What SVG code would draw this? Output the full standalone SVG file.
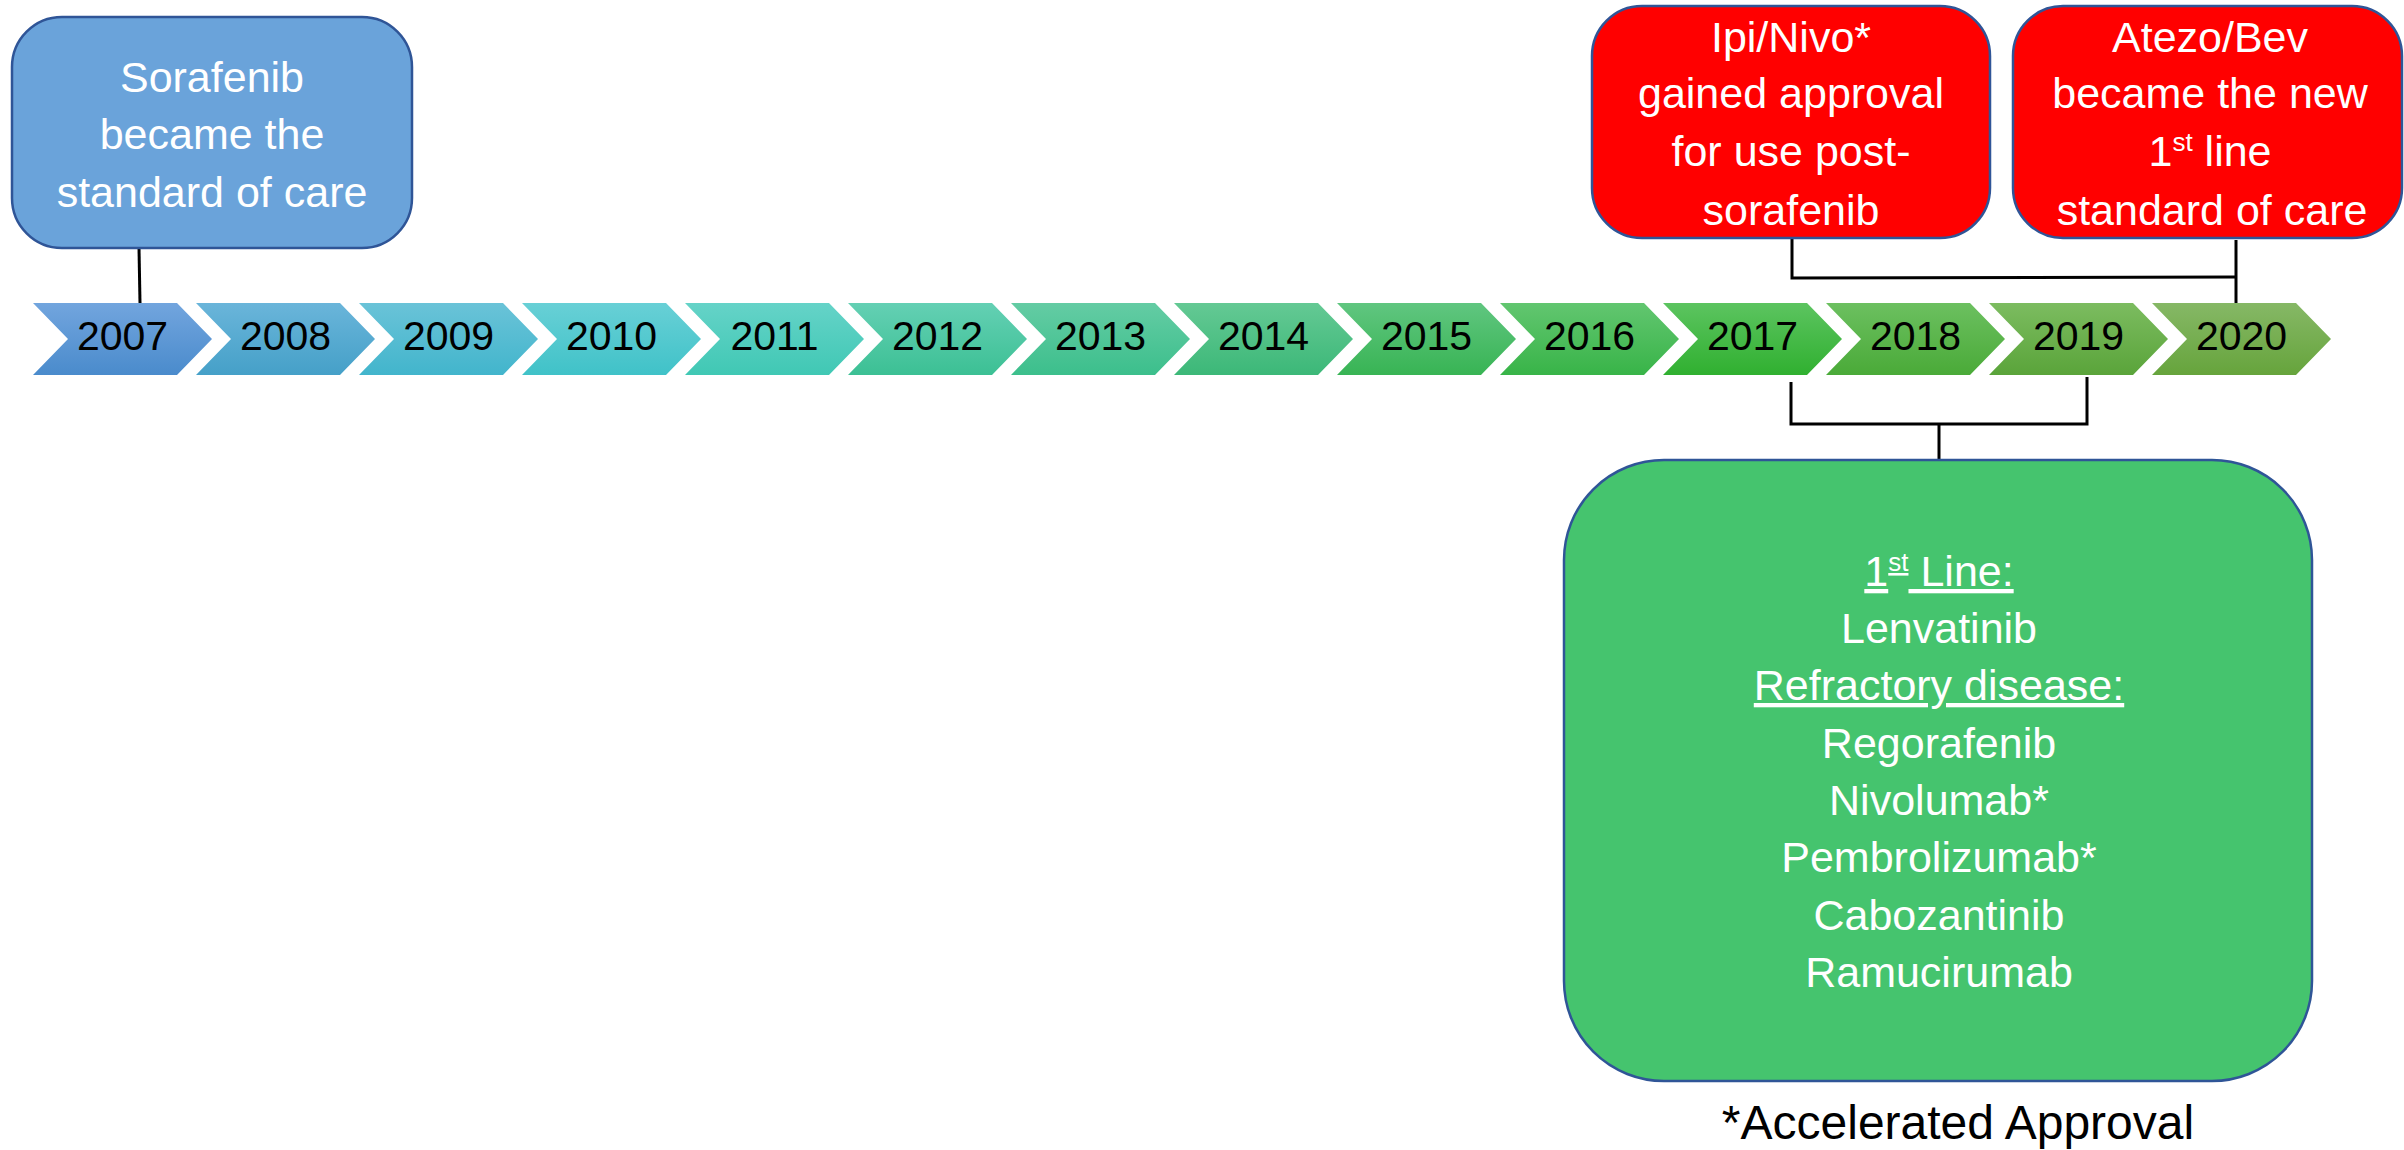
<svg xmlns="http://www.w3.org/2000/svg" width="2404" height="1150" viewBox="0 0 2404 1150">
<style>
.box{stroke:#2f5597;stroke-width:2.5}
.wt{font-family:"Liberation Sans",Arial,sans-serif;font-size:43px;fill:#ffffff;text-anchor:middle}
.yr{font-family:"Liberation Sans",Arial,sans-serif;font-size:41px;fill:#000000;text-anchor:middle}
.conn{stroke:#000000;stroke-width:3;fill:none}
.note{font-family:"Liberation Sans",Arial,sans-serif;font-size:48px;fill:#000000;text-anchor:middle}
</style>
<defs>
<linearGradient id="g0" x1="0" y1="0" x2="0" y2="1"><stop offset="0" stop-color="#72a5de"/><stop offset="1" stop-color="#4a8bcc"/></linearGradient>
<linearGradient id="g1" x1="0" y1="0" x2="0" y2="1"><stop offset="0" stop-color="#6ab5da"/><stop offset="1" stop-color="#45a0c8"/></linearGradient>
<linearGradient id="g2" x1="0" y1="0" x2="0" y2="1"><stop offset="0" stop-color="#6ac3d8"/><stop offset="1" stop-color="#42b5cc"/></linearGradient>
<linearGradient id="g3" x1="0" y1="0" x2="0" y2="1"><stop offset="0" stop-color="#68d0d6"/><stop offset="1" stop-color="#40c2c8"/></linearGradient>
<linearGradient id="g4" x1="0" y1="0" x2="0" y2="1"><stop offset="0" stop-color="#65d3c8"/><stop offset="1" stop-color="#40c8b4"/></linearGradient>
<linearGradient id="g5" x1="0" y1="0" x2="0" y2="1"><stop offset="0" stop-color="#64d0b4"/><stop offset="1" stop-color="#3cc094"/></linearGradient>
<linearGradient id="g6" x1="0" y1="0" x2="0" y2="1"><stop offset="0" stop-color="#64cca4"/><stop offset="1" stop-color="#3cbf8c"/></linearGradient>
<linearGradient id="g7" x1="0" y1="0" x2="0" y2="1"><stop offset="0" stop-color="#64c994"/><stop offset="1" stop-color="#3cb878"/></linearGradient>
<linearGradient id="g8" x1="0" y1="0" x2="0" y2="1"><stop offset="0" stop-color="#60c680"/><stop offset="1" stop-color="#38b454"/></linearGradient>
<linearGradient id="g9" x1="0" y1="0" x2="0" y2="1"><stop offset="0" stop-color="#62c670"/><stop offset="1" stop-color="#38b448"/></linearGradient>
<linearGradient id="g10" x1="0" y1="0" x2="0" y2="1"><stop offset="0" stop-color="#5cc460"/><stop offset="1" stop-color="#30b030"/></linearGradient>
<linearGradient id="g11" x1="0" y1="0" x2="0" y2="1"><stop offset="0" stop-color="#6cc060"/><stop offset="1" stop-color="#4aaa38"/></linearGradient>
<linearGradient id="g12" x1="0" y1="0" x2="0" y2="1"><stop offset="0" stop-color="#7cbc60"/><stop offset="1" stop-color="#5aa43a"/></linearGradient>
<linearGradient id="g13" x1="0" y1="0" x2="0" y2="1"><stop offset="0" stop-color="#86b866"/><stop offset="1" stop-color="#66a43c"/></linearGradient>
<path id="chev" d="M0,303 L144,303 L179,339 L144,375 L0,375 L35,339 Z"/>
</defs>

<g id="timeline">
<g id="y2007"><use href="#chev" x="33" fill="url(#g0)"/><text class="yr" x="122.5" y="350">2007</text></g>
<g id="y2008"><use href="#chev" x="196" fill="url(#g1)"/><text class="yr" x="285.5" y="350">2008</text></g>
<g id="y2009"><use href="#chev" x="359" fill="url(#g2)"/><text class="yr" x="448.5" y="350">2009</text></g>
<g id="y2010"><use href="#chev" x="522" fill="url(#g3)"/><text class="yr" x="611.5" y="350">2010</text></g>
<g id="y2011"><use href="#chev" x="685" fill="url(#g4)"/><text class="yr" x="774.5" y="350">2011</text></g>
<g id="y2012"><use href="#chev" x="848" fill="url(#g5)"/><text class="yr" x="937.5" y="350">2012</text></g>
<g id="y2013"><use href="#chev" x="1011" fill="url(#g6)"/><text class="yr" x="1100.5" y="350">2013</text></g>
<g id="y2014"><use href="#chev" x="1174" fill="url(#g7)"/><text class="yr" x="1263.5" y="350">2014</text></g>
<g id="y2015"><use href="#chev" x="1337" fill="url(#g8)"/><text class="yr" x="1426.5" y="350">2015</text></g>
<g id="y2016"><use href="#chev" x="1500" fill="url(#g9)"/><text class="yr" x="1589.5" y="350">2016</text></g>
<g id="y2017"><use href="#chev" x="1663" fill="url(#g10)"/><text class="yr" x="1752.5" y="350">2017</text></g>
<g id="y2018"><use href="#chev" x="1826" fill="url(#g11)"/><text class="yr" x="1915.5" y="350">2018</text></g>
<g id="y2019"><use href="#chev" x="1989" fill="url(#g12)"/><text class="yr" x="2078.5" y="350">2019</text></g>
<g id="y2020"><use href="#chev" x="2152" fill="url(#g13)"/><text class="yr" x="2241.5" y="350">2020</text></g>
</g>

<g id="connectors">
<line class="conn" x1="139" y1="248" x2="140" y2="303"/>
<polyline class="conn" points="1792,238 1792,278 2236,277"/>
<line class="conn" x1="2236" y1="240" x2="2236" y2="303"/>
<polyline class="conn" points="1791,382 1791,424 2087,424 2087,377"/>
<line class="conn" x1="1939" y1="424" x2="1939" y2="460"/>
</g>

<g id="sorafenib">
<rect class="box" x="12" y="17" width="400" height="231" rx="50" ry="50" fill="#6aa3da"/>
<text class="wt" x="212" y="92">Sorafenib</text>
<text class="wt" x="212" y="149">became the</text>
<text class="wt" x="212" y="207">standard of care</text>
</g>

<g id="ipinivo">
<rect class="box" x="1592" y="6" width="398" height="232" rx="50" ry="50" fill="#ff0000"/>
<text class="wt" x="1791" y="52">Ipi/Nivo*</text>
<text class="wt" x="1791" y="108">gained approval</text>
<text class="wt" x="1791" y="166">for use post-</text>
<text class="wt" x="1791" y="225">sorafenib</text>
</g>

<g id="atezobev">
<rect class="box" x="2013" y="6" width="389" height="232" rx="50" ry="50" fill="#ff0000"/>
<text class="wt" x="2210" y="52">Atezo/Bev</text>
<text class="wt" x="2210" y="108">became the new</text>
<text class="wt" x="2210" y="166">1<tspan font-size="26" dy="-15">st</tspan><tspan dy="15"> line</tspan></text>
<text class="wt" x="2212" y="225">standard of care</text>
</g>

<g id="approvals">
<rect class="box" x="1564" y="460" width="748" height="621" rx="100" ry="100" fill="#45c46e"/>
<text class="wt" x="1939" y="586" text-decoration="underline">1<tspan font-size="26" dy="-15">st</tspan><tspan dy="15"> Line:</tspan></text>
<text class="wt" x="1939" y="643">Lenvatinib</text>
<text class="wt" x="1939" y="700" text-decoration="underline">Refractory disease:</text>
<text class="wt" x="1939" y="758">Regorafenib</text>
<text class="wt" x="1939" y="815">Nivolumab*</text>
<text class="wt" x="1939" y="872">Pembrolizumab*</text>
<text class="wt" x="1939" y="930">Cabozantinib</text>
<text class="wt" x="1939" y="987">Ramucirumab</text>
</g>

<text class="note" x="1958" y="1139">*Accelerated Approval</text>
</svg>
